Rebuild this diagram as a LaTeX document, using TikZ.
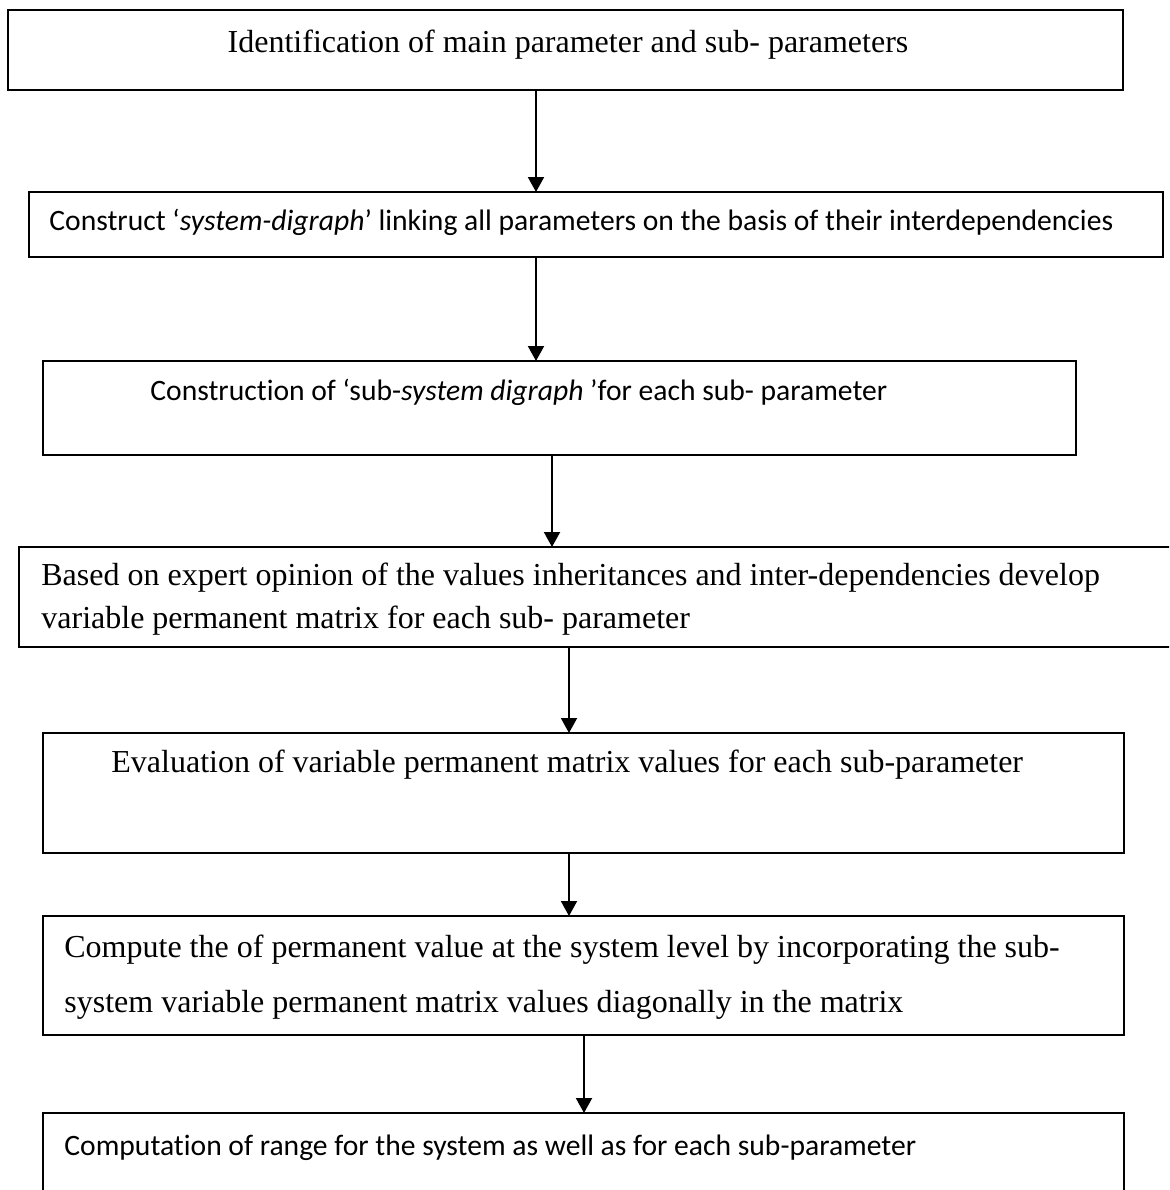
\documentclass[tikz,border=0pt]{standalone}
\usepackage{fontspec}
\setmainfont{Liberation Serif}
\newfontfamily\calibfont[Ligatures=NoCommon]{Carlito}
\usetikzlibrary{arrows.meta,fit}

\tikzset{
  stepbox/.style={draw=black, line width=1.2pt, inner sep=0pt, outer sep=0pt, fill=none},
  serifline/.style={inner sep=0pt, anchor=base west, font=\fontsize{16}{19}\selectfont},
  sansline/.style={inner sep=0pt, anchor=base west, font=\calibfont\fontsize{14.8}{18}\selectfont},
  flow/.style={line width=1pt, -{Triangle[length=7.5pt, width=8pt]}}
}

\begin{document}
\begin{tikzpicture}[x=0.5pt, y=-0.5pt]
  \useasboundingbox (0,0) rectangle (1169,1190);
  \clip (0,0) rectangle (1169,1190);

  % step boxes
  \node[stepbox, fit={(8,10) (1123,90)}]     (b1) {};
  \node[stepbox, fit={(29,192) (1163,257)}]  (b2) {};
  \node[stepbox, fit={(43,361) (1076,455)}]  (b3) {};
  \node[stepbox, fit={(19,547) (1190,647)}]  (b4) {};
  \node[stepbox, fit={(43,733) (1124,853)}]  (b5) {};
  \node[stepbox, fit={(43,916) (1124,1035)}] (b6) {};
  \node[stepbox, fit={(43,1113) (1124,1215)}] (b7) {};

  % step texts
  \node[serifline, anchor=base] (t1) at (568,52)
    {Identification of main parameter and sub- parameters};
  \node[sansline] (t2) at (49,230)
    {Construct ‘\textit{system-digraph}’ linking all parameters on the basis of their interdependencies};
  \node[sansline] (t3) at (150,400)
    {Construction of ‘sub-\textit{system digraph} ’for each sub- parameter};
  \node[serifline] (t4a) at (41,585)
    {Based on expert opinion of the values inheritances and inter-dependencies develop};
  \node[serifline] (t4b) at (41,628)
    {variable permanent matrix for each sub- parameter};
  \node[serifline] (t5) at (111,772)
    {Evaluation of variable permanent matrix values for each sub-parameter};
  \node[serifline] (t6a) at (64,957)
    {Compute the of permanent value at the system level by incorporating the sub-};
  \node[serifline] (t6b) at (64,1012)
    {system variable permanent matrix values diagonally in the matrix};
  \node[sansline] (t7) at (64,1155)
    {Computation of range for the system as well as for each sub-parameter};

  % connectors
  \draw[flow] (536,0 |- b1.south) -- (536,0 |- b2.north);
  \draw[flow] (536,0 |- b2.south) -- (536,0 |- b3.north);
  \draw[flow] (552,0 |- b3.south) -- (552,0 |- b4.north);
  \draw[flow] (569,0 |- b4.south) -- (569,0 |- b5.north);
  \draw[flow] (569,0 |- b5.south) -- (569,0 |- b6.north);
  \draw[flow] (584,0 |- b6.south) -- (584,0 |- b7.north);
\end{tikzpicture}
\end{document}
